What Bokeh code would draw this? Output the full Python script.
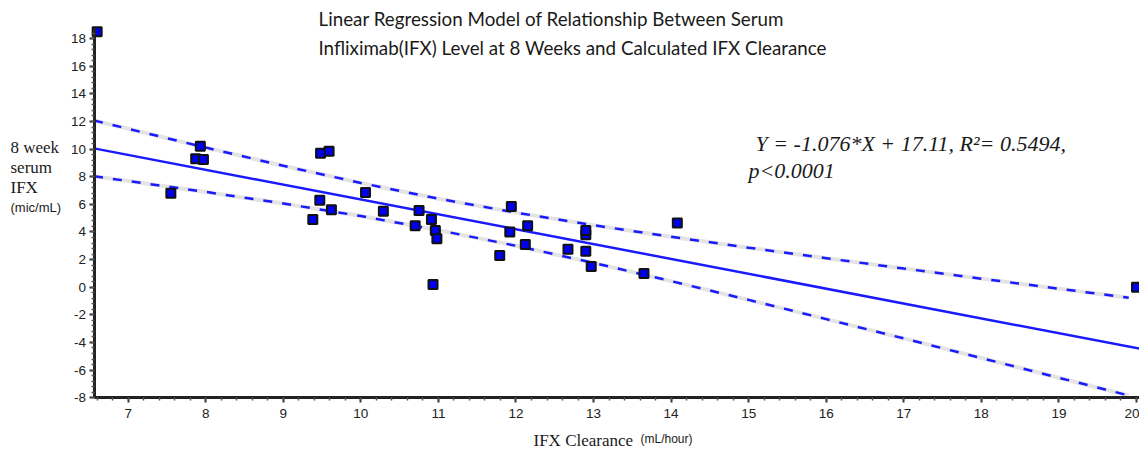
from bokeh.plotting import figure
from bokeh.models import Range1d, Label, SingleIntervalTicker, LinearAxis, PrintfTickFormatter
from bokeh.embed import file_html
from bokeh.resources import INLINE

# ---- data ----
clearance = [6.60, 7.55, 7.93, 7.87, 7.97, 9.48, 9.59, 10.06, 9.47, 9.62, 9.38,
             10.29, 10.75, 10.70, 10.91, 10.96, 10.98, 10.93, 11.94, 12.15, 11.92,
             12.12, 11.79, 12.67, 12.90, 12.90, 12.90, 12.97, 13.65, 14.08, 20.00]
ifx_level = [18.5, 6.8, 10.2, 9.3, 9.25, 9.7, 9.85, 6.85, 6.3, 5.6, 4.9,
             5.5, 5.55, 4.45, 4.9, 4.1, 3.5, 0.2, 5.85, 4.45, 4.0,
             3.1, 2.3, 2.75, 3.8, 4.1, 2.6, 1.5, 1.0, 4.65, 0.0]

# regression line (from the stated model)
slope = -1.076
intercept = 17.11
fit_x = [6.56, 20.04]
fit_y = [slope * v + intercept for v in fit_x]

# 95% confidence band
band_x = [6.56, 7, 8, 9, 10, 11, 12, 13, 14, 15, 16, 17, 18, 19, 19.9]
band_upper = [12.07, 11.47, 10.11, 8.79, 7.55, 6.41, 5.40, 4.49, 3.65, 2.86, 2.10, 1.35, 0.62, -0.11, -0.76]
band_lower = [8.03, 7.69, 6.90, 6.06, 5.15, 4.13, 3.00, 1.76, 0.44, -0.92, -2.31, -3.71, -5.13, -6.56, -7.84]

title_lines = ["Linear Regression Model of Relationship Between Serum",
               "Infliximab(IFX) Level at 8 Weeks and Calculated IFX Clearance"]
eq_lines = ["Y = -1.076*X + 17.11, R\u00b2= 0.5494,", "p<0.0001"]
ylabel_lines = ["8 week", "serum", "IFX"]
ylabel_unit = "(mic/mL)"
xlabel_main = "IFX Clearance"
xlabel_unit = "(mL/hour)"

x_axis_bounds = (6.56, 20.04)
y_axis_bounds = (-8, 18.75)

W, H = 1139, 450
p = figure(width=W, height=H, x_range=Range1d(5.3535, 20.039), y_range=Range1d(-11.825, 20.761),
           output_backend="svg", toolbar_location=None, title=None,
           x_axis_location=None, y_axis_location=None,
           min_border_left=0, min_border_right=0, min_border_top=0, min_border_bottom=0)
p.outline_line_color = None
p.grid.visible = False
p.background_fill_color = "white"

xaxis = LinearAxis(fixed_location=y_axis_bounds[0], bounds=x_axis_bounds,
                   ticker=SingleIntervalTicker(interval=1, num_minor_ticks=5))
yaxis = LinearAxis(fixed_location=x_axis_bounds[0], bounds=y_axis_bounds,
                   ticker=SingleIntervalTicker(interval=2, num_minor_ticks=5))
for ax in (xaxis, yaxis):
    ax.axis_line_width = 3
    ax.axis_line_color = "#222222"
    ax.major_tick_out = 5
    ax.major_tick_in = 0
    ax.minor_tick_out = 3
    ax.minor_tick_in = 0
    ax.major_tick_line_width = 2
    ax.minor_tick_line_width = 1.5
    ax.major_tick_line_color = "#333333"
    ax.minor_tick_line_color = "#555555"
    ax.major_label_text_font = "Liberation Sans"
    ax.major_label_text_font_size = "13.5px"
    ax.major_label_text_color = "#222222"
    ax.formatter = PrintfTickFormatter(format="%d")
xaxis.major_label_standoff = 6
yaxis.major_label_standoff = 3
p.add_layout(xaxis, "below")
p.add_layout(yaxis, "left")

# confidence bands: faint grey underlay + blue dashes
for band in (band_upper, band_lower):
    p.line(band_x, band, line_color="#e4e4e4", line_width=4)
    p.line(band_x, band, line_color="#1a1aff", line_width=2.5, line_dash="9 10")

p.line(fit_x, fit_y, line_color="#1a1aff", line_width=2.5)

p.scatter(clearance, ifx_level, marker="square", size=9, fill_color="#0000ee",
          line_color="#111111", line_width=2)

def lab(text, X, Y, font, size, style="normal", color="#1a1a1a"):
    p.add_layout(Label(x=X, y=H - Y, x_units="screen", y_units="screen", text=text,
                       text_font=font, text_font_size=size, text_font_style=style,
                       text_color=color, text_baseline="middle", text_align="left"))

lab(title_lines[0], 318, 18, "Lato", "18.8px")
lab(title_lines[1], 318, 47, "Lato", "18.8px")
lab(eq_lines[0], 755, 143, "Liberation Serif", "22px", "italic")
lab(eq_lines[1], 748, 170, "Liberation Serif", "22px", "italic")
for i, t in enumerate(ylabel_lines):
    lab(t, 10, 147 + i * 20, "Liberation Serif", "17px")
lab(ylabel_unit, 10, 207, "Liberation Sans", "13px")
lab(xlabel_main, 533, 440, "Liberation Serif", "17px")
lab(xlabel_unit, 640, 438, "Liberation Sans", "12px")

open("out.html", "w").write(file_html(p, INLINE))
